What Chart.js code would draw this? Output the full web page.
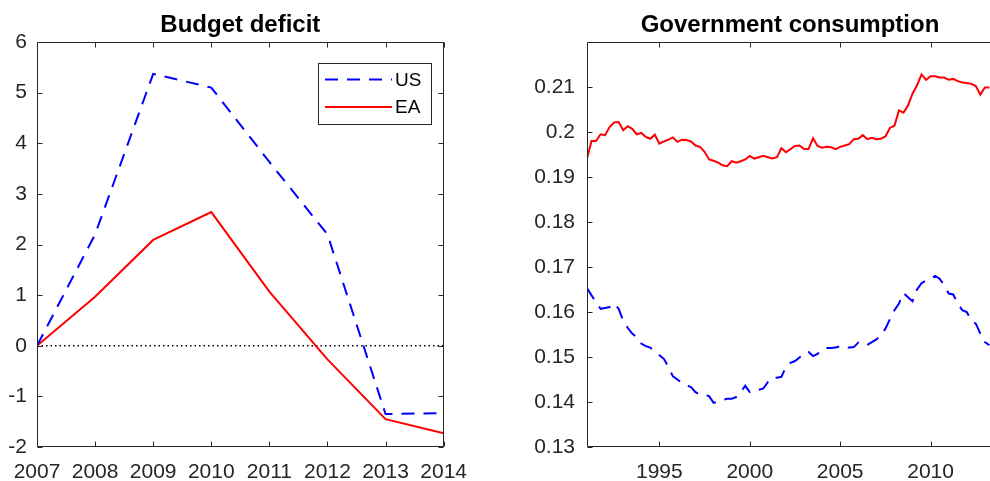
<!DOCTYPE html>
<html>
<head>
<meta charset="utf-8">
<script src="https://cdn.jsdelivr.net/npm/chart.js@4.4.0/dist/chart.umd.min.js"></script>
<style>
  html, body { margin: 0; padding: 0; background: #fff; overflow: hidden; width: 990px; height: 481px; }
  canvas { position: absolute; top: 0; }
  #deficit { left: 0; }
  #consumption { left: 500px; }
</style>
</head>
<body>
<canvas id="deficit" width="480" height="481"></canvas>
<canvas id="consumption" width="510" height="481"></canvas>
<script>
// Budget deficit (left)
const years = [2007, 2008, 2009, 2010, 2011, 2012, 2013, 2014];
const usDeficit = [0, 2.2, 5.37, 5.1, 3.63, 2.2, -1.35, -1.33];
const eaDeficit = [0, 0.97, 2.09, 2.64, 1.07, -0.27, -1.45, -1.73];
const zeroLine = [0, 0, 0, 0, 0, 0, 0, 0];
const deficitTicks = [-2, -1, 0, 1, 2, 3, 4, 5, 6];

// Government consumption (right), quarterly from 1991Q1
const startYear = 1991;
const eaGov = [
  0.1941, 0.198, 0.198, 0.1995, 0.1993, 0.2011, 0.2021, 0.2022, 0.2004, 0.2013,
  0.2007, 0.1995, 0.1998, 0.1989, 0.1985, 0.1994, 0.1974, 0.1979, 0.1983, 0.1988,
  0.1978, 0.1983, 0.1982, 0.1979, 0.197, 0.1967, 0.1956, 0.1939, 0.1936, 0.1932,
  0.1926, 0.1924, 0.1935, 0.1932, 0.1935, 0.1939, 0.1947, 0.1941, 0.1944, 0.1947,
  0.1944, 0.1941, 0.1944, 0.1964, 0.1955, 0.1962, 0.1969, 0.197, 0.1962, 0.1962,
  0.1986, 0.1969, 0.1965, 0.1967, 0.1966, 0.1962, 0.1967, 0.197, 0.1973, 0.1984,
  0.1985, 0.1993, 0.1984, 0.1987, 0.1984, 0.1985, 0.199, 0.2009, 0.2014, 0.2048,
  0.2043, 0.2059, 0.2085, 0.2104, 0.2128, 0.2116, 0.2124, 0.2124, 0.2121, 0.2121,
  0.2116, 0.2118, 0.2113, 0.211, 0.2109, 0.2107, 0.2102, 0.2083, 0.2099, 0.2099
];
const usGov = [
  0.1653, 0.1637, 0.1622, 0.1607, 0.1609, 0.1611, 0.1619, 0.1607, 0.1581, 0.1565,
  0.1552, 0.1544, 0.153, 0.1524, 0.1521, 0.1511, 0.1504, 0.1496, 0.1478, 0.1457,
  0.145, 0.1442, 0.1437, 0.1433, 0.1422, 0.1416, 0.1416, 0.1413, 0.1398, 0.1401,
  0.1405, 0.1407, 0.1407, 0.1411, 0.1422, 0.1436, 0.1422, 0.1426, 0.1427, 0.143,
  0.1444, 0.1454, 0.1454, 0.1456, 0.1478, 0.1487, 0.1491, 0.1499, 0.1506, 0.1511,
  0.1502, 0.1507, 0.1517, 0.152, 0.152, 0.1521, 0.1524, 0.152, 0.1521, 0.1522,
  0.1532, 0.1527, 0.1527, 0.1533, 0.1539, 0.1548, 0.1563, 0.1584, 0.1604, 0.1619,
  0.1642, 0.1633, 0.1624, 0.165, 0.1664, 0.167, 0.1674, 0.168, 0.1674, 0.1659,
  0.1641, 0.1639, 0.1619, 0.1604, 0.16, 0.1581, 0.1574, 0.1552, 0.1533, 0.1526
];
const quarters = eaGov.map((_, i) => startYear + i / 4);
const govYTicks = [0.13, 0.14, 0.15, 0.16, 0.17, 0.18, 0.19, 0.2, 0.21];
const govXTicks = [1995, 2000, 2005, 2010];

const axisColor = '#262626';
const fontFamily = '"Liberation Sans", Arial, Helvetica, sans-serif';
const usDash = [13, 9];

Chart.defaults.font.family = fontFamily;
Chart.defaults.color = axisColor;

const pts = (xs, ys) => ys.map((y, i) => ({ x: xs[i], y: y }));

// matlab style box with inward ticks + title on top
function axesBox(title, sides) {
  return {
    id: 'axesBox',
    afterDatasetsDraw(chart) {
      const { ctx, chartArea: a, scales } = chart;
      const L = Math.round(a.left) + 0.5, R = Math.round(a.right) - 0.5;
      const T = Math.round(a.top) + 0.5, B = Math.round(a.bottom) - 0.5;
      ctx.save();
      ctx.strokeStyle = axisColor;
      ctx.lineWidth = 1;
      ctx.beginPath();
      ctx.moveTo(L, T); ctx.lineTo(L, B); ctx.lineTo(R, B);
      ctx.moveTo(L, T); ctx.lineTo(R, T);
      if (sides.right) { ctx.moveTo(R, T); ctx.lineTo(R, B); }
      const tl = 5;
      scales.x.ticks.forEach(t => {
        const px = Math.round(scales.x.getPixelForValue(t.value)) + 0.5;
        ctx.moveTo(px, B); ctx.lineTo(px, B - tl);
        ctx.moveTo(px, T); ctx.lineTo(px, T + tl);
      });
      scales.y.ticks.forEach(t => {
        const py = Math.round(scales.y.getPixelForValue(t.value)) + 0.5;
        ctx.moveTo(L, py); ctx.lineTo(L + tl, py);
        if (sides.right) { ctx.moveTo(R, py); ctx.lineTo(R - tl, py); }
      });
      ctx.stroke();

      ctx.fillStyle = '#000';
      ctx.font = 'bold 24px ' + fontFamily;
      ctx.textAlign = 'center';
      ctx.textBaseline = 'alphabetic';
      ctx.fillText(title, (a.left + a.right) / 2, 31.5);
      ctx.restore();
    }
  };
}

// legend box drawn inside the axes
const boxLegend = {
  id: 'boxLegend',
  afterDraw(chart) {
    const { ctx } = chart;
    const items = chart.data.datasets.filter(d => d.label);
    ctx.save();
    ctx.fillStyle = '#fff';
    ctx.fillRect(318.5, 63.5, 113, 61);
    ctx.strokeStyle = '#262626';
    ctx.lineWidth = 1;
    ctx.strokeRect(318.5, 63.5, 113, 61);
    items.forEach((d, i) => {
      const y = 79.5 + i * 27.5;
      ctx.strokeStyle = d.borderColor;
      ctx.lineWidth = 2;
      ctx.setLineDash(d.borderDash || []);
      ctx.beginPath();
      ctx.moveTo(325, y); ctx.lineTo(392, y);
      ctx.stroke();
      ctx.setLineDash([]);
      ctx.fillStyle = '#000';
      ctx.font = '19px ' + fontFamily;
      ctx.textAlign = 'left';
      ctx.textBaseline = 'middle';
      ctx.fillText(d.label, 395, y + 1);
    });
    ctx.restore();
  }
};

function setTicks(list) {
  return scale => { scale.ticks = list.map(v => ({ value: v })); };
}

const noGrid = { display: false, drawTicks: false, tickLength: 0 };

new Chart(document.getElementById('deficit').getContext('2d'), {
  type: 'line',
  data: {
    datasets: [{
      label: 'US',
      data: pts(years, usDeficit),
      borderColor: '#0000ff',
      borderWidth: 2,
      borderDash: usDash,
      pointRadius: 0,
      tension: 0
    }, {
      label: 'EA',
      data: pts(years, eaDeficit),
      borderColor: '#ff0000',
      borderWidth: 2,
      pointRadius: 0,
      tension: 0
    }, {
      data: pts(years, zeroLine),
      borderColor: '#000',
      borderWidth: 1.5,
      borderDash: [1.5, 3],
      pointRadius: 0
    }]
  },
  options: {
    responsive: false,
    animation: false,
    devicePixelRatio: 1,
    layout: { padding: { top: 42, right: 27, left: 0, bottom: 0 } },
    plugins: { legend: { display: false }, title: { display: false }, tooltip: { enabled: false } },
    scales: {
      x: {
        type: 'linear',
        min: 2007,
        max: 2014,
        grid: noGrid,
        border: { display: false },
        afterBuildTicks: setTicks(years),
        afterFit: s => { s.height = 34; },
        ticks: { font: { size: 21 }, padding: 13, maxRotation: 0, callback: v => String(v) }
      },
      y: {
        min: -2,
        max: 6,
        grid: noGrid,
        border: { display: false },
        afterBuildTicks: setTicks(deficitTicks),
        afterFit: s => { s.width = 37; },
        ticks: { font: { size: 21 }, padding: 10, callback: v => String(v) }
      }
    }
  },
  plugins: [axesBox('Budget deficit', { right: true }), boxLegend]
});

new Chart(document.getElementById('consumption').getContext('2d'), {
  type: 'line',
  data: {
    datasets: [{
      label: 'US',
      data: pts(quarters, usGov),
      borderColor: '#0000ff',
      borderWidth: 2,
      borderDash: usDash,
      pointRadius: 0,
      tension: 0
    }, {
      label: 'EA',
      data: pts(quarters, eaGov),
      borderColor: '#ff0000',
      borderWidth: 2,
      pointRadius: 0,
      tension: 0
    }]
  },
  options: {
    responsive: false,
    animation: false,
    devicePixelRatio: 1,
    layout: { padding: { top: 42, right: 17, left: 0, bottom: 0 } },
    plugins: { legend: { display: false }, title: { display: false }, tooltip: { enabled: false } },
    scales: {
      x: {
        type: 'linear',
        min: 1991,
        max: 2013.45,
        grid: noGrid,
        border: { display: false },
        afterBuildTicks: setTicks(govXTicks),
        afterFit: s => { s.height = 34; },
        ticks: { font: { size: 21 }, padding: 13, maxRotation: 0, callback: v => String(v) }
      },
      y: {
        min: 0.13,
        max: 0.22,
        grid: noGrid,
        border: { display: false },
        afterBuildTicks: setTicks(govYTicks),
        afterFit: s => { s.width = 87; },
        ticks: { font: { size: 21 }, padding: 12, callback: v => String(Math.round(v * 100) / 100) }
      }
    }
  },
  plugins: [axesBox('Government consumption', { right: false })]
});
</script>
</body>
</html>
